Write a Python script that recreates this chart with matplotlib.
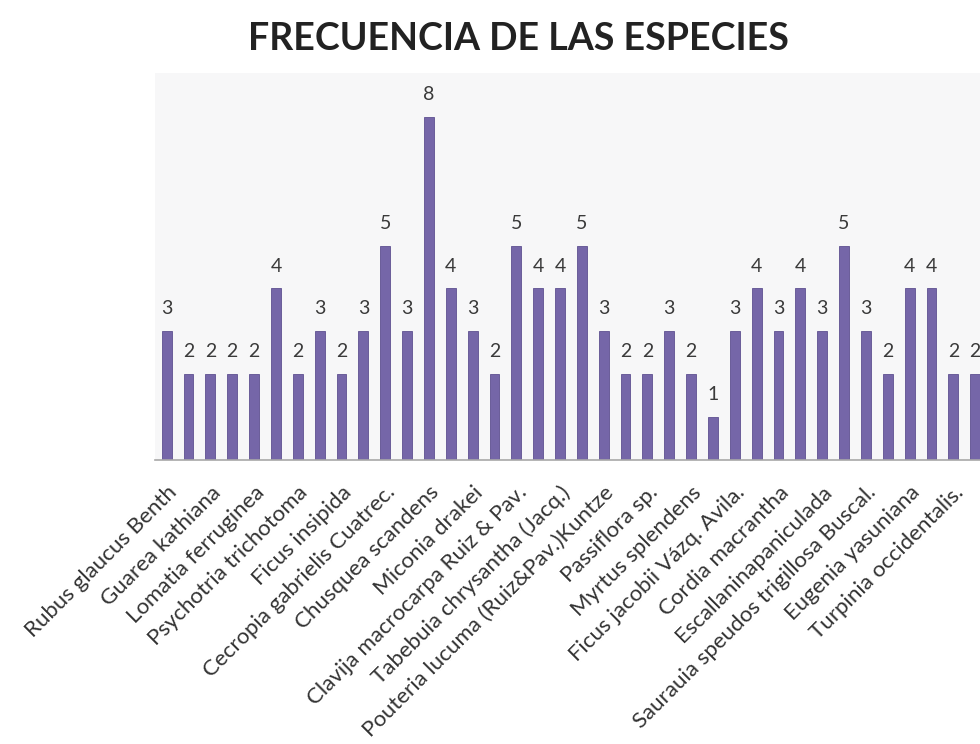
import matplotlib
matplotlib.use("Agg")
import matplotlib.pyplot as plt

species = [
    "Rubus glaucus Benth", "", "Guarea kathiana", "", "Lomatia ferruginea", "",
    "Psychotria trichotoma", "", "Ficus insipida", "", "Cecropia gabrielis Cuatrec.", "",
    "Chusquea scandens", "", "Miconia drakei", "", "Clavija macrocarpa Ruiz & Pav.", "",
    "Tabebuia chrysantha (Jacq.)", "", "Pouteria lucuma (Ruiz&Pav.)Kuntze", "",
    "Passiflora sp.", "", "Myrtus splendens", "", "Ficus jacobii Vázq. Avila.", "",
    "Cordia macrantha", "", "Escallaninapaniculada", "", "Saurauia speudos trigillosa Buscal.", "",
    "Eugenia yasuniana", "", "Turpinia occidentalis.", "",
]
frecuencia = [3, 2, 2, 2, 2, 4, 2, 3, 2, 3, 5, 3, 8, 4, 3, 2, 5, 4, 4, 5,
              3, 2, 2, 3, 2, 1, 3, 4, 3, 4, 3, 5, 3, 2, 4, 4, 2, 2]
title = "FRECUENCIA DE LAS ESPECIES"

plt.rcParams['font.family'] = ['Lato', 'DejaVu Sans']

W, H = 980, 744
fig = plt.figure(figsize=(W / 100, H / 100), dpi=100)
fig.patch.set_facecolor('white')

ax_left, ax_right, ax_top, ax_bottom = 155, 980, 73, 460
ax = fig.add_axes([ax_left / W, 1 - ax_bottom / H, (ax_right - ax_left) / W, (ax_bottom - ax_top) / H])
ax.set_facecolor('#f7f7f8')

x = list(range(len(frecuencia)))
bars = ax.bar(x, frecuencia, width=0.45, color='#7566a8', edgecolor='#5e5090', linewidth=0.6, zorder=2)
ax.bar_label(bars, labels=[str(v) for v in frecuencia], padding=10, fontsize=14, color='#3a3a3a')

first_px, step_px = 166.7, 21.85
ax.set_xlim(-(first_px - ax_left) / step_px, (ax_right - first_px) / step_px)
ax.set_ylim(0, (ax_bottom - ax_top) / 42.9)

tick_pos = [i for i, s in enumerate(species) if s]
ax.set_xticks(tick_pos)
ax.set_xticklabels([species[i] for i in tick_pos], rotation=45, ha='right',
                   rotation_mode='anchor', fontsize=16, color='#333333')
ax.tick_params(axis='x', length=0, pad=16)
ax.set_yticks([])
for s in ['top', 'right', 'left']:
    ax.spines[s].set_visible(False)
ax.spines['bottom'].set_color('#a8a8a8')
ax.spines['bottom'].set_linewidth(1.2)

fig.text(518 / W, 1 - 39 / H, title, ha='center', va='center', fontsize=27,
         fontweight='bold', color='#222222')

fig.savefig('out.png', dpi=100)
